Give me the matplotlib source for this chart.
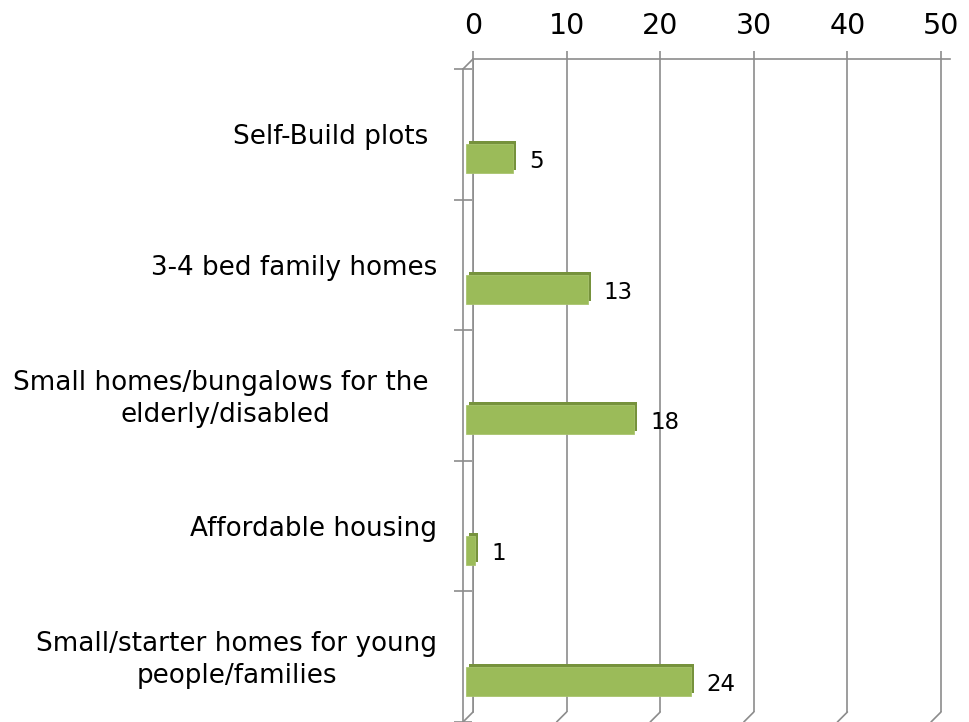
import matplotlib
matplotlib.use("Agg")
import matplotlib.pyplot as plt
from matplotlib.transforms import ScaledTranslation
from matplotlib.patches import ConnectionPatch

categories = ["Self-Build plots ", "3-4 bed family homes",
              "Small homes/bungalows for the \nelderly/disabled",
              "Affordable housing",
              "Small/starter homes for young\npeople/families"]
values = [5, 13, 18, 1, 24]
xticks = [0, 10, 20, 30, 40, 50]

GRID = "#8c8c8c"
FRONT = "#9bbb59"
SIDE = "#76923c"

fig = plt.figure(figsize=(9.7, 7.22), dpi=100)
W, H = 970, 722
# back plane of the 3D box, in pixels
left, right_50, top, bottom = 473, 941, 59, 712
px_per_unit = (right_50 - left) / 50.0
xmax = 51
ax = fig.add_axes([left / W, (H - bottom) / H, xmax * px_per_unit / W, (bottom - top) / H])
ax.set_xlim(0, xmax)
ax.set_ylim(len(categories), 0)
ax.set_facecolor("none")

for s in ["right", "bottom"]:
    ax.spines[s].set_visible(False)
for s in ["left", "top"]:
    ax.spines[s].set_color(GRID)
    ax.spines[s].set_linewidth(1.2)

ax.xaxis.tick_top()
ax.set_xticks(xticks)
ax.set_xticklabels([str(t) for t in xticks], fontsize=20.5)
ax.tick_params(axis="x", which="major", direction="out", length=6, width=1.2,
               color=GRID, pad=8)
ax.set_yticks([])
ax.grid(axis="x", color=GRID, linewidth=1.2)
ax.set_axisbelow(True)

def off(dx_px, dy_px):
    return ax.transData + ScaledTranslation(dx_px / 100.0, dy_px / 100.0, fig.dpi_scale_trans)

front = off(-10, -10)

# front left axis line
ax.plot([0, 0], [0, len(categories)], color=GRID, lw=1.2, transform=front, clip_on=False)
# category boundary ticks on the front axis
bounds = list(range(len(categories) + 1))
ax.plot([0] * len(bounds), bounds, ls="none", marker="_", markersize=13,
        markeredgewidth=1.2, color=GRID, transform=front, clip_on=False)
# depth connectors: top-left corner and the bottom of each gridline
conns = [(0, 0)] + [(t, len(categories)) for t in xticks]
for (cx, cy) in conns:
    cp = ConnectionPatch(xyA=(cx, cy), coordsA=front, xyB=(cx, cy), coordsB=ax.transData,
                         color=GRID, lw=1.2, clip_on=False)
    ax.add_artist(cp)

# bars (3D-ish: darker shifted copy behind the front face)
ypos = [i + 0.5 + 0.21 for i in range(len(categories))]
bh = 0.222
ax.barh(ypos, values, height=bh, color=SIDE, transform=off(-4, -4), clip_on=False, zorder=3)
ax.barh(ypos, values, height=bh, color=FRONT, edgecolor="#a9c46e", linewidth=0.6,
        transform=off(-7, -7), clip_on=False, zorder=4)

for y, v in zip(ypos, values):
    ax.annotate(str(v), xy=(v, y), xycoords=off(-7, -7), xytext=(16, -3),
                textcoords="offset pixels", ha="left", va="center", fontsize=16.5, zorder=5)

# category labels, centred on the front-plane bands
lab_tr = front + ScaledTranslation(-0.26, -0.03, fig.dpi_scale_trans)
for i, c in enumerate(categories):
    ax.text(0, i + 0.5, c, transform=lab_tr, ha="right", va="center",
            multialignment="center", fontsize=18.9, linespacing=1.3)

fig.savefig("out.png", dpi=100)
